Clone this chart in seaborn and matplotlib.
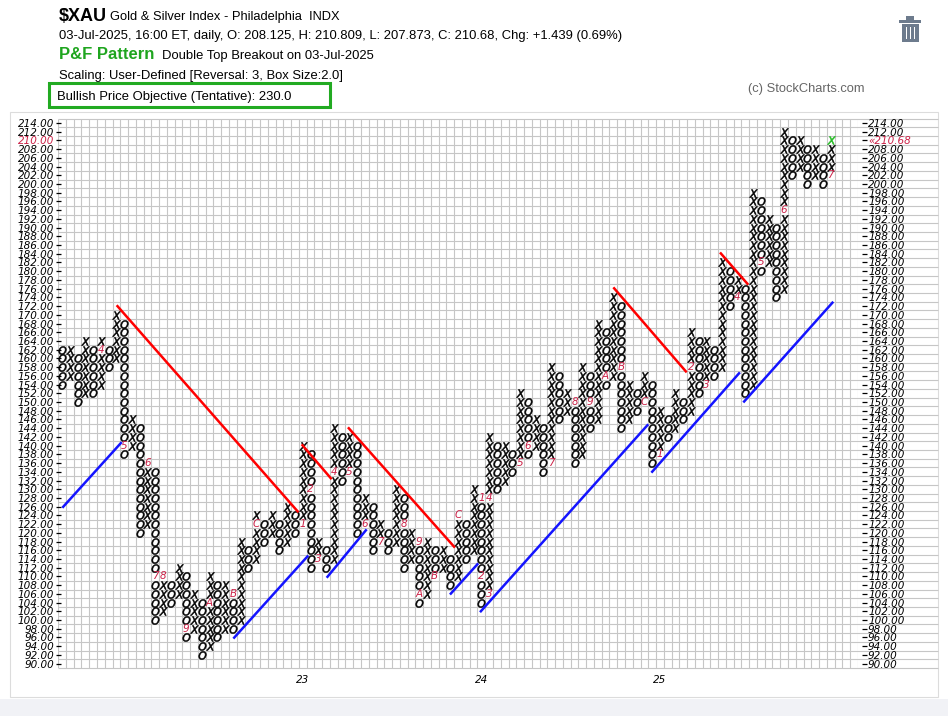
import numpy as np
import pandas as pd
import matplotlib
matplotlib.use("Agg")
import matplotlib.pyplot as plt
import seaborn as sns
from matplotlib import font_manager
from matplotlib.patches import Rectangle

# ---------------- data ----------------
first_type = "O"  # columns alternate O / X starting with O
col_low = [154,156,150,152,152,154,158,160,138,140,120,122,100,102,104,106,96,98,92,94,
           96,98,98,100,112,114,118,120,116,118,120,122,112,114,112,114,132,134,120,122,
           116,118,116,118,112,114,104,106,110,112,108,110,114,116,104,106,130,132,134,136,
           138,140,134,136,146,148,136,138,144,146,154,156,144,146,148,150,136,138,142,144,
           146,148,152,154,156,158,172,174,152,154,180,182,174,176,202,204,200,202,200,202]
col_high = [162,162,160,164,162,164,162,170,168,146,144,136,134,110,108,112,110,106,104,110,
            108,108,106,118,116,124,122,124,122,126,124,140,138,118,116,144,142,142,140,128,
            126,122,120,130,128,120,118,118,116,116,114,124,122,130,128,142,140,140,138,152,
            150,146,144,158,156,152,150,158,156,168,166,174,172,154,152,156,154,148,146,152,
            150,166,164,164,162,182,180,178,176,198,196,192,190,212,210,210,208,208,206,210]

month_col   = [5, 8, 11, 12, 13, 16, 19, 22, 25, 31, 32, 33, 35, 37, 39, 41, 44, 46, 46, 48,
               51, 54, 54, 55, 55, 59, 60, 63, 66, 68, 70, 72, 75, 77, 81, 83, 87, 90, 93, 99]
month_price = [162, 140, 136, 110, 110, 98, 104, 106, 122, 122, 130, 114, 134, 134, 122, 118, 122, 118, 106, 110,
               124, 128, 110, 106, 128, 136, 140, 136, 150, 150, 156, 158, 150, 138, 158, 154, 174, 182, 194, 202]
month_char  = ["4", "5", "6", "7", "8", "9", "A", "B", "C", "1", "2", "3", "4", "5", "6", "7", "8", "9", "A", "B",
               "C", "1", "2", "3", "4", "5", "6", "7", "8", "9", "A", "B", "C", "1", "2", "3", "4", "5", "6", "7"]

last_col, last_price = 99, 210          # latest box (green)

year_cols = [31, 54, 77]
year_labels = ["23", "24", "25"]

price_ticks = list(range(90, 215, 2))
last_close_label = "\u00ab210.68"

# trend lines (column, price) start/end points
red_x0 = [7.03, 30.86, 36.82, 71.0, 84.74]
red_y0 = [172.2, 140.3, 144.2, 176.3, 184.3]
red_x1 = [30.45, 34.72, 50.6, 80.45, 88.38]
red_y1 = [124.7, 132.3, 116.6, 156.8, 176.9]
blue_x0 = [0.03, 22.06, 34.08, 49.96, 53.83, 75.9, 87.74]
blue_y0 = [125.75, 95.75, 109.7, 105.85, 101.8, 133.8, 149.9]
blue_x1 = [7.68, 31.71, 39.23, 53.6, 75.5, 87.3, 99.33]
blue_y1 = [140.8, 114.8, 120.8, 113.0, 144.9, 156.8, 173.0]

# ---------------- build boxes ----------------
month_set = {(c, p) for c, p in zip(month_col, month_price)}
rows = []
for i, (lo, hi) in enumerate(zip(col_low, col_high)):
    kind = first_type if i % 2 == 0 else ("X" if first_type == "O" else "O")
    for p in range(lo, hi + 1, 2):
        if (i, p) in month_set:
            continue
        k = kind
        if i == last_col and p == last_price:
            k = "G"
        rows.append((i, p, k))
boxes = pd.DataFrame(rows, columns=["col", "price", "kind"])

# ---------------- figure ----------------
W, H = 948, 716
fig = plt.figure(figsize=(W / 100, H / 100), dpi=100)
fig.patch.set_facecolor("white")

def fx(x):
    return x / W

def fy(y):
    return 1 - y / H

avail = {f.name for f in font_manager.fontManager.ttflist}
hdr = "Liberation Sans" if "Liberation Sans" in avail else "DejaVu Sans"

# panel and bottom strip (behind the axes)
fig.patches.append(Rectangle((fx(10), fy(697)), fx(938) - fx(10), fy(112) - fy(697),
                             transform=fig.transFigure, facecolor="white",
                             edgecolor="#dcdcdc", lw=0.8, zorder=-2))
fig.patches.append(Rectangle((0, 0), 1, fy(699), transform=fig.transFigure,
                             facecolor="#f1f2f6", edgecolor="none", zorder=-2))

grid_left, grid_right = 58.2, 58.2 + 103 * 7.764
grid_top, grid_bot = 118.6, 668.0
ax = fig.add_axes([fx(grid_left), fy(grid_bot), fx(grid_right) - fx(grid_left),
                   fy(grid_top) - fy(grid_bot)])
ax.set_zorder(1)
ax.set_xlim(-0.5, 102.5)
ax.set_ylim(89, 215)
ax.set_facecolor("none")
for s in ax.spines.values():
    s.set_visible(False)

# grid
gc = "#c6c6c6"
ax.vlines(np.arange(-0.5, 103.0, 1.0), 89, 215, color=gc, lw=0.8, zorder=1)
x_ext = (938 - grid_left) / 7.764 - 0.5
ax.hlines(np.arange(89, 216, 2), -0.5, x_ext, color=gc, lw=0.8, zorder=1, clip_on=False)

# X and O boxes
msize = 34
sns.scatterplot(data=boxes[boxes.kind == "X"], x="col", y="price", marker="$X$", s=msize,
                color="black", edgecolor="black", linewidth=0.4, ax=ax, legend=False, zorder=3)
sns.scatterplot(data=boxes[boxes.kind == "O"], x="col", y="price", marker="$O$", s=msize,
                color="black", edgecolor="black", linewidth=0.4, ax=ax, legend=False, zorder=3)
sns.scatterplot(data=boxes[boxes.kind == "G"], x="col", y="price", marker="$X$", s=msize,
                color="#22bb22", edgecolor="#22bb22", linewidth=0.4, ax=ax, legend=False, zorder=3)

# month markers
for c, p, ch in zip(month_col, month_price, month_char):
    ax.text(c, p, ch, color="#cc2248", fontsize=7.5, style="italic", ha="center", va="center",
            zorder=4)

# trend lines
for x0, y0, x1, y1 in zip(red_x0, red_y0, red_x1, red_y1):
    ax.plot([x0, x1], [y0, y1], color="#ff0000", lw=1.8, zorder=5, solid_capstyle="butt")
for x0, y0, x1, y1 in zip(blue_x0, blue_y0, blue_x1, blue_y1):
    ax.plot([x0, x1], [y0, y1], color="#1414ff", lw=1.8, zorder=5, solid_capstyle="butt")

ax.set_xlabel("")
ax.set_ylabel("")

# left axis
ax.set_yticks(price_ticks)
ax.set_yticklabels([f"{v:.2f}" for v in price_ticks])
ax.tick_params(axis="y", which="major", direction="inout", length=3.6, width=0.9,
               pad=1.0, labelsize=7.5, colors="black")
for lab in ax.get_yticklabels():
    lab.set_fontstyle("italic")
    if lab.get_text() == "210.00":
        lab.set_color("#cc2248")

# x axis (years)
ax.set_xticks(year_cols)
ax.set_xticklabels(year_labels)
ax.tick_params(axis="x", length=0, pad=5, labelsize=7.5)
for lab in ax.get_xticklabels():
    lab.set_fontstyle("italic")

# right axis
ax2 = ax.twinx()
ax2.set_ylim(89, 215)
ax2.patch.set_visible(False)
for s in ax2.spines.values():
    s.set_visible(False)
ax2.spines["right"].set_position(("outward", 3))
ax2.set_yticks(price_ticks)
rlabels = [last_close_label if v == last_price else f"{v:.2f}" for v in price_ticks]
ax2.set_yticklabels(rlabels)
ax2.tick_params(axis="y", direction="out", length=3.5, width=0.9, pad=0.8, labelsize=7.5)
for lab in ax2.get_yticklabels():
    lab.set_fontstyle("italic")
    if lab.get_text() == last_close_label:
        lab.set_color("#cc2248")

# ---------------- header ----------------
fig.text(fx(59), fy(21), "$XAU", fontsize=13, fontweight="bold", family=hdr, va="baseline")
fig.text(fx(110), fy(20), "Gold & Silver Index - Philadelphia  INDX", fontsize=9.3, family=hdr,
         va="baseline")
fig.text(fx(59), fy(38.5), "03-Jul-2025, 16:00 ET, daily, O: 208.125, H: 210.809, L: 207.873, "
         "C: 210.68, Chg: +1.439 (0.69%)", fontsize=9.4, family=hdr, va="baseline")
fig.text(fx(59), fy(59), "P&F Pattern", fontsize=12, fontweight="bold", color="#1fa51f",
         family=hdr, va="baseline")
fig.text(fx(162), fy(59), "Double Top Breakout on 03-Jul-2025", fontsize=9.4, family=hdr,
         va="baseline")
fig.text(fx(59), fy(79), "Scaling: User-Defined [Reversal: 3, Box Size:2.0]", fontsize=9.4,
         family=hdr, va="baseline")
fig.text(fx(57), fy(100), "Bullish Price Objective (Tentative): 230.0", fontsize=9.4,
         family=hdr, va="baseline")
fig.patches.append(Rectangle((fx(49), fy(107)), fx(330) - fx(49), fy(83) - fy(107),
                             transform=fig.transFigure, facecolor="none",
                             edgecolor="#22aa22", lw=2.2, zorder=5))
fig.text(fx(748), fy(92), "(c) StockCharts.com", fontsize=9.3, family=hdr, color="#666666",
         va="baseline")

# trash icon
ic = "#6d7b8d"
fig.patches.append(Rectangle((fx(906), fy(20)), fx(914) - fx(906), fy(16.5) - fy(20),
                             transform=fig.transFigure, facecolor=ic, edgecolor="none"))
fig.patches.append(Rectangle((fx(899), fy(23)), fx(921) - fx(899), fy(20) - fy(23),
                             transform=fig.transFigure, facecolor=ic, edgecolor="none"))
fig.patches.append(Rectangle((fx(901.5), fy(42)), fx(918.5) - fx(901.5), fy(24) - fy(42),
                             transform=fig.transFigure, facecolor=ic, edgecolor="none"))
for sx in (905.5, 909.5, 913.5):
    fig.patches.append(Rectangle((fx(sx), fy(39)), fx(sx + 1.5) - fx(sx), fy(27) - fy(39),
                                 transform=fig.transFigure, facecolor="white", edgecolor="none"))

fig.savefig("out.png", dpi=100)
